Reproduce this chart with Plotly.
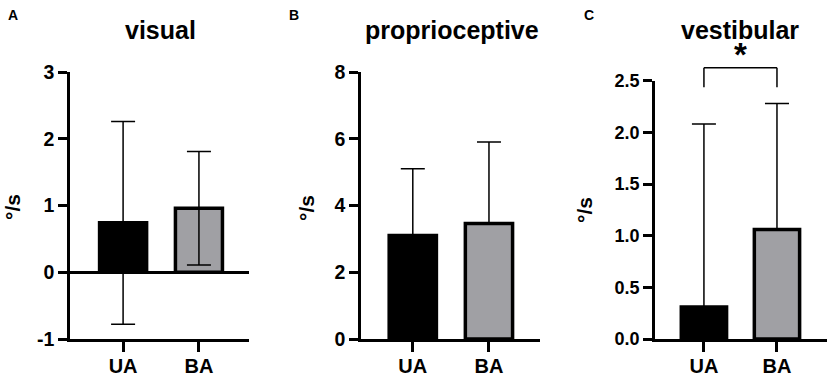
import plotly.graph_objects as go

# ---------------- data ----------------
categories = ["UA", "BA"]
panel_letters = ["A", "B", "C"]
panel_titles = ["visual", "proprioceptive", "vestibular"]

visual_mean = [0.74, 0.96]
visual_sd = [1.52, 0.85]

proprio_mean = [3.10, 3.46]
proprio_sd = [2.00, 2.44]

vestib_mean = [0.31, 1.06]
vestib_sd = [1.77, 1.22]

visual_ticks = [-1, 0, 1, 2, 3]
visual_ticktext = ["-1", "0", "1", "2", "3"]
proprio_ticks = [0, 2, 4, 6, 8]
vestib_ticks = [0.0, 0.5, 1.0, 1.5, 2.0, 2.5]

y_label = "°/s"
sig_label = "*"

# ---------------- style ----------------
W, H = 829, 378
FONT = "Arial, Liberation Sans, Helvetica, sans-serif"
bar_colors = ["#000000", "#A0A0A4"]


def px_x(x):
    return x / W


def px_y(y):
    return (H - y) / H


fig = go.Figure()

err_style = dict(color="black", thickness=1.5, width=12, visible=True, type="data")
bar_marker = dict(color=bar_colors, line=dict(color="black", width=3.5))

fig.add_trace(go.Bar(
    x=categories, y=visual_mean, width=0.62, marker=bar_marker,
    error_y=dict(array=visual_sd, symmetric=True, **err_style),
    xaxis="x", yaxis="y"))

fig.add_trace(go.Bar(
    x=categories, y=proprio_mean, width=0.62, marker=bar_marker,
    error_y=dict(array=proprio_sd, arrayminus=[0, 0], symmetric=False, **err_style),
    xaxis="x2", yaxis="y2"))

fig.add_trace(go.Bar(
    x=categories, y=vestib_mean, width=0.62, marker=bar_marker,
    error_y=dict(array=vestib_sd, arrayminus=[0, 0], symmetric=False, **err_style),
    xaxis="x3", yaxis="y3"))


def tf(size):
    return dict(family=FONT, size=size, color="black", weight="bold")


axis_common = dict(showline=True, linecolor="black", linewidth=2.5,
                   ticks="outside", tickcolor="black", tickwidth=2.5,
                   showgrid=False, fixedrange=True, automargin=False)

x_common = dict(type="category", ticklen=10, tickfont=tf(20), zeroline=False,
                ticklabelstandoff=-3, **axis_common)

y_dom_ab = [px_y(339), px_y(72)]
y_dom_c = [px_y(339), px_y(80.7)]

fig.update_layout(
    width=W, height=H, autosize=False,
    margin=dict(l=0, r=0, t=0, b=0, pad=0, autoexpand=False),
    paper_bgcolor="white", plot_bgcolor="white",
    showlegend=False,
    xaxis=dict(domain=[px_x(70), px_x(249)], anchor="y",
               range=[-0.70, 1.66], **x_common),
    yaxis=dict(domain=y_dom_ab, anchor="x", range=[-1, 3],
               tickvals=visual_ticks, ticktext=visual_ticktext, ticklen=9,
               tickfont=tf(19.5), zeroline=True, zerolinecolor="black",
               zerolinewidth=2.5, **axis_common),
    xaxis2=dict(domain=[px_x(361), px_x(540)], anchor="y2",
                range=[-0.68, 1.67], **x_common),
    yaxis2=dict(domain=y_dom_ab, anchor="x2", range=[0, 8],
                tickvals=proprio_ticks, ticklen=9, tickfont=tf(19.5),
                zeroline=False, **axis_common),
    xaxis3=dict(domain=[px_x(655), px_x(827)], anchor="y3",
                range=[-0.67, 1.685], **x_common),
    yaxis3=dict(domain=y_dom_c, anchor="x3", range=[0, 2.5],
                tickvals=vestib_ticks, tickformat=".1f", ticklen=9,
                tickfont=tf(18), zeroline=False, **axis_common),
)

annotations = []
title_x = [160, 452, 740]
letter_x = [12.5, 294, 589]
ylab_x = [12, 306, 584]
ylab_y = [207, 208, 210]
for i in range(3):
    annotations.append(dict(
        text=panel_titles[i], x=px_x(title_x[i]), y=px_y(30),
        xref="paper", yref="paper", xanchor="center", yanchor="middle",
        showarrow=False, font=tf(25)))
    annotations.append(dict(
        text=panel_letters[i], x=px_x(letter_x[i]), y=px_y(14.5),
        xref="paper", yref="paper", xanchor="center", yanchor="middle",
        showarrow=False, font=tf(14)))
    annotations.append(dict(
        text=y_label, x=px_x(ylab_x[i]), y=px_y(ylab_y[i]),
        xref="paper", yref="paper", xanchor="center", yanchor="middle",
        textangle=-90, showarrow=False, font=tf(21)))

annotations.append(dict(
    text=sig_label, x=0.5, xref="x3", y=px_y(55), yref="paper",
    xanchor="center", yanchor="middle", showarrow=False, font=tf(33)))

fig.update_layout(annotations=annotations)

# significance bracket
br_top = px_y(67.7)
br_bot = px_y(87.3)
line_style = dict(color="black", width=1.5)
fig.add_shape(type="line", xref="x3", yref="paper", x0=0, x1=1, y0=br_top, y1=br_top, line=line_style)
fig.add_shape(type="line", xref="x3", yref="paper", x0=0, x1=0, y0=br_top, y1=br_bot, line=line_style)
fig.add_shape(type="line", xref="x3", yref="paper", x0=1, x1=1, y0=br_top, y1=br_bot, line=line_style)

fig.write_html("out.html", config={"displayModeBar": False},
               post_script="document.body.style.margin='0';document.body.style.overflow='hidden';")
